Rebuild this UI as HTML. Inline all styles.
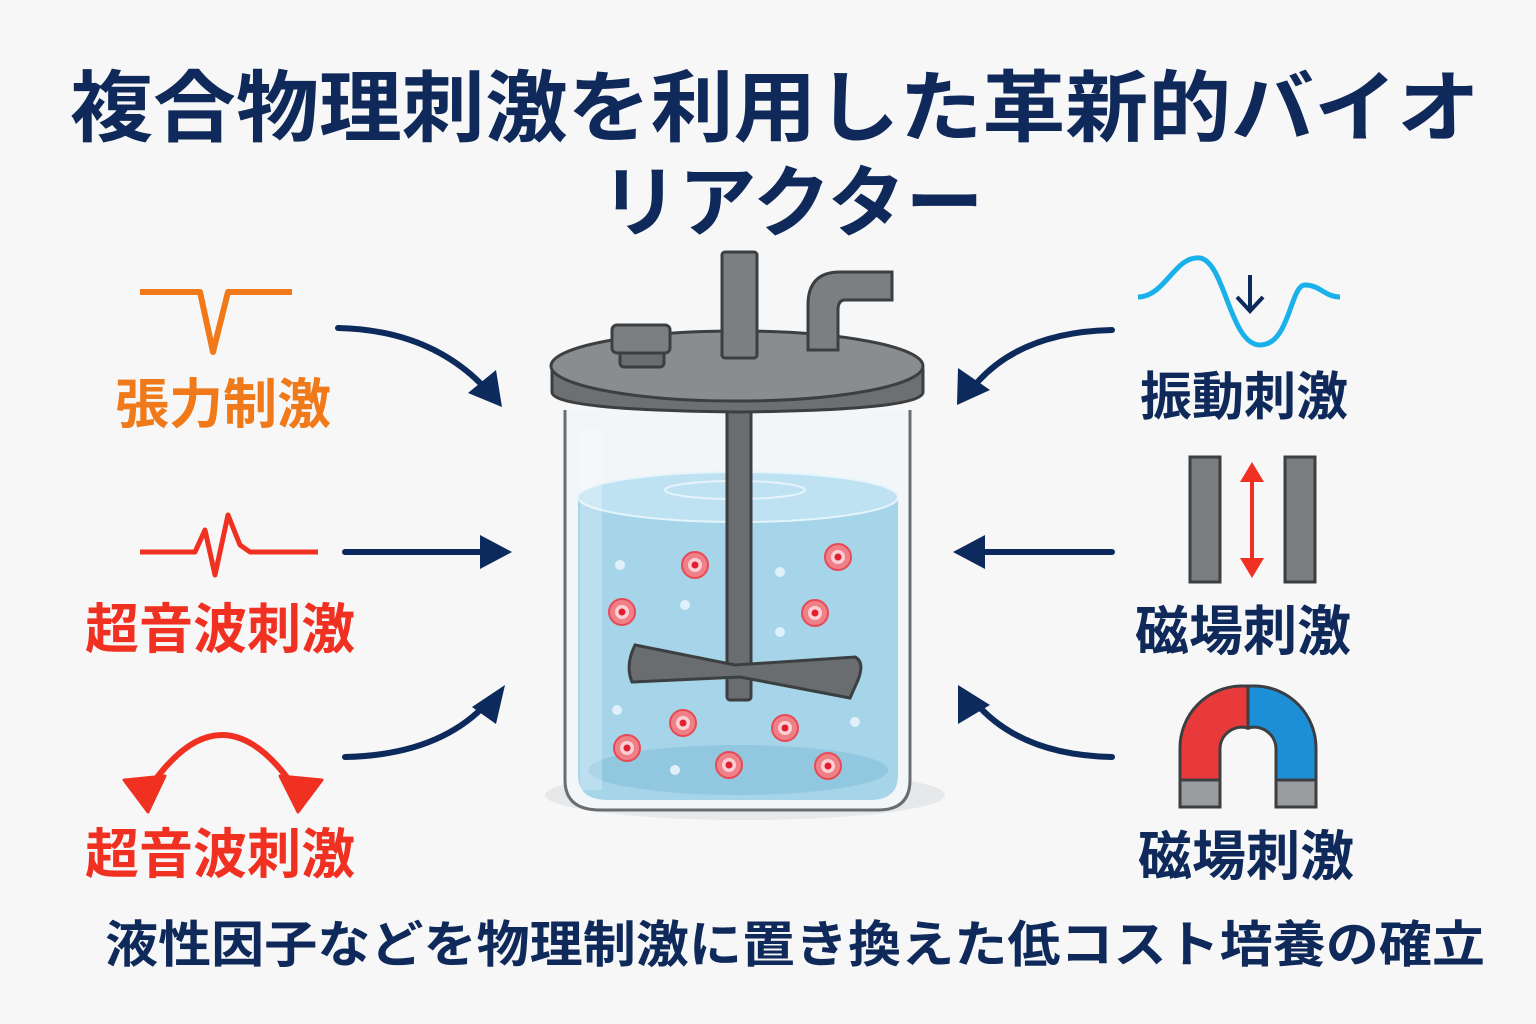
<!DOCTYPE html>
<html><head><meta charset="utf-8"><style>
html,body{margin:0;padding:0;background:#f7f7f7;}
svg{display:block}
text{font-family:"Liberation Sans","Noto Sans CJK JP",sans-serif;font-weight:bold}
</style></head><body>
<svg width="1536" height="1024" viewBox="0 0 1536 1024" xmlns="http://www.w3.org/2000/svg">
<rect width="1536" height="1024" fill="#f7f7f7"/>
<text x="775" y="135" font-size="78" fill="#0f2a5a" text-anchor="middle" textLength="1410" lengthAdjust="spacingAndGlyphs">複合物理刺激を利用した革新的バイオ</text>
<text x="792" y="230" font-size="78" fill="#0f2a5a" text-anchor="middle">リアクター</text>

<!-- left icons -->
<path d="M140,292 H200 L213,352 L228,292 H292" fill="none" stroke="#f07a1a" stroke-width="6" stroke-linejoin="round"/>
<path d="M140,552 H195 L205,530 L215,575 L228,515 L240,545 L250,552 H318" fill="none" stroke="#f03020" stroke-width="5" stroke-linejoin="round"/>
<path d="M148,790 Q222,680 296,790" fill="none" stroke="#f03020" stroke-width="6"/>
<path d="M124,780 L148,812 L165,776 Z M280,776 L298,812 L322,780 Z" fill="#f03020" stroke="#f03020" stroke-width="3" stroke-linejoin="round"/>
<text x="115" y="423" font-size="54" fill="#f07a1a">張力制激</text>
<text x="85" y="648" font-size="54" fill="#f03020">超音波刺激</text>
<text x="85" y="873" font-size="54" fill="#f03020">超音波刺激</text>

<!-- arrows -->
<g fill="none" stroke="#0d2a5c" stroke-width="6" stroke-linecap="round">
<path d="M338,328 Q430,330 485,388"/>
<path d="M345,552 H490"/>
<path d="M345,757 Q440,755 488,702"/>
<path d="M1112,330 Q1020,332 975,385"/>
<path d="M1112,552 H972"/>
<path d="M1112,757 Q1020,755 975,702"/>
</g>
<g fill="#0d2a5c">
<path d="M468,393 L502,407 L496,370 Z"/>
<path d="M480,535 L512,552 L480,569 Z"/>
<path d="M472,707 L505,685 L496,724 Z"/>
<path d="M958,368 L957,405 L990,390 Z"/>
<path d="M985,535 L953,552 L985,569 Z"/>
<path d="M958,724 L958,685 L990,705 Z"/>
</g>

<!-- right icons -->
<path d="M1138,297 C1165,297 1175,255 1200,258 C1225,262 1230,345 1260,345 C1290,345 1290,285 1305,285 C1320,285 1325,297 1340,297" fill="none" stroke="#1ab0ea" stroke-width="5"/>
<path d="M1250,275 V310 M1237,297 L1250,311 L1263,297" fill="none" stroke="#0d2a5c" stroke-width="4"/>
<text x="1140" y="415" font-size="52" fill="#0f2a5a">振動刺激</text>
<rect x="1190" y="457" width="30" height="125" fill="#7a7d80" stroke="#3c3f42" stroke-width="3"/>
<rect x="1285" y="457" width="30" height="125" fill="#7a7d80" stroke="#3c3f42" stroke-width="3"/>
<path d="M1252,470 V570" stroke="#f03020" stroke-width="4"/>
<path d="M1240,482 L1252,462 L1264,482 Z M1240,558 L1252,578 L1264,558 Z" fill="#f03020"/>
<text x="1135" y="650" font-size="54" fill="#0f2a5a">磁場刺激</text>
<path d="M1248,686 H1240 A62,62 0 0 0 1180,748 V806 H1220 V748 A22,22 0 0 1 1248,728 Z" fill="#e83a3a" stroke="#3c3f42" stroke-width="3"/>
<path d="M1248,686 H1256 A62,62 0 0 1 1316,748 V806 H1276 V748 A22,22 0 0 0 1248,728 Z" fill="#1d8fd6" stroke="#3c3f42" stroke-width="3"/>
<rect x="1180" y="780" width="40" height="27" fill="#9a9da0" stroke="#3c3f42" stroke-width="3"/>
<rect x="1276" y="780" width="40" height="27" fill="#9a9da0" stroke="#3c3f42" stroke-width="3"/>
<text x="1138" y="875" font-size="54" fill="#0f2a5a">磁場刺激</text>

<!-- reactor -->
<ellipse cx="745" cy="795" rx="200" ry="25" fill="#e6e8ea"/>
<path d="M565,410 V780 Q565,810 600,810 H878 Q910,810 910,780 V410" fill="#f2f6f8" stroke="#6a6d70" stroke-width="3"/>
<path d="M578,497 V775 Q578,800 608,800 H870 Q898,800 898,775 V497 Z" fill="#a6d5ea"/>
<ellipse cx="738" cy="497" rx="160" ry="25" fill="#bfe2f2" stroke="#e6f4fb" stroke-width="2"/>
<ellipse cx="738" cy="770" rx="150" ry="25" fill="#92c7e0"/>
<ellipse cx="735" cy="490" rx="70" ry="9" fill="none" stroke="#e6f4fb" stroke-width="2"/>
<rect x="580" y="430" width="22" height="360" fill="#ffffff" opacity="0.25"/>
<g fill="#e0f1fa"><circle cx="620" cy="565" r="5"/><circle cx="685" cy="605" r="5"/><circle cx="780" cy="632" r="5"/><circle cx="617" cy="710" r="5"/><circle cx="855" cy="722" r="5"/><circle cx="675" cy="770" r="5"/><circle cx="780" cy="572" r="5"/></g>
<g fill="#f08088" stroke="#e84a55" stroke-width="2">
<circle cx="695" cy="565" r="13"/><circle cx="838" cy="557" r="13"/><circle cx="622" cy="612" r="13"/><circle cx="815" cy="613" r="13"/><circle cx="683" cy="723" r="13"/><circle cx="785" cy="728" r="13"/><circle cx="627" cy="748" r="13"/><circle cx="729" cy="765" r="13"/><circle cx="828" cy="766" r="13"/></g>
<g fill="#fbd0d4"><circle cx="695" cy="565" r="7"/><circle cx="838" cy="557" r="7"/><circle cx="622" cy="612" r="7"/><circle cx="815" cy="613" r="7"/><circle cx="683" cy="723" r="7"/><circle cx="785" cy="728" r="7"/><circle cx="627" cy="748" r="7"/><circle cx="729" cy="765" r="7"/><circle cx="828" cy="766" r="7"/></g>
<g fill="#e02030"><circle cx="695" cy="565" r="3.5"/><circle cx="838" cy="557" r="3.5"/><circle cx="622" cy="612" r="3.5"/><circle cx="815" cy="613" r="3.5"/><circle cx="683" cy="723" r="3.5"/><circle cx="785" cy="728" r="3.5"/><circle cx="627" cy="748" r="3.5"/><circle cx="729" cy="765" r="3.5"/><circle cx="828" cy="766" r="3.5"/></g>
<rect x="727" y="400" width="24" height="300" rx="3" fill="#6a6d70" stroke="#3c3f42" stroke-width="3"/>
<path d="M635,645 L735,665 L855,657 Q865,662 858,680 L850,698 L740,677 L632,682 Q625,665 635,645 Z" fill="#6a6d70" stroke="#3c3f42" stroke-width="3"/>
<path d="M552,370 V392 Q552,410 737,412 Q923,410 923,392 V370 Z" fill="#6d7073" stroke="#3c3f42" stroke-width="3"/>
<ellipse cx="737" cy="366" rx="186" ry="35" fill="#8a8d90" stroke="#3c3f42" stroke-width="3"/>
<rect x="620" y="345" width="44" height="22" rx="4" fill="#6a6d70" stroke="#3c3f42" stroke-width="3"/>
<rect x="612" y="325" width="58" height="28" rx="5" fill="#7c7f82" stroke="#3c3f42" stroke-width="3"/>
<rect x="722" y="252" width="35" height="106" rx="3" fill="#7c7f82" stroke="#3c3f42" stroke-width="3"/>
<path d="M808,350 V305 Q808,272 840,272 H892 V300 H845 Q838,300 838,310 V350 Z" fill="#7c7f82" stroke="#3c3f42" stroke-width="3"/>

<text x="795" y="962" font-size="50" fill="#0f2a5a" text-anchor="middle" textLength="1380" lengthAdjust="spacingAndGlyphs">液性因子などを物理制激に置き換えた低コスト培養の確立</text>
</svg>
</body></html>
